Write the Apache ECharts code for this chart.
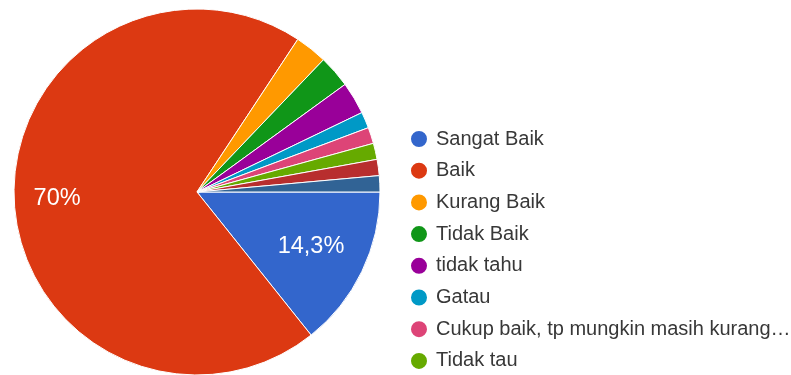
<!DOCTYPE html>
<html>
<head>
<meta charset="utf-8">
<script src="https://cdn.jsdelivr.net/npm/echarts@6/dist/echarts.min.js"></script>
<style>
  html, body { margin: 0; padding: 0; background: #fff; }
  #chart { width: 791px; height: 375px; }
</style>
</head>
<body>
<div id="chart"></div>
<script>
// Survey answers (number of responses per option)
const categories = [
  'Sangat Baik',
  'Baik',
  'Kurang Baik',
  'Tidak Baik',
  'tidak tahu',
  'Gatau',
  'Cukup baik, tp mungkin masih kurang…',
  'Tidak tau',
  'Lainnya A',
  'Lainnya B'
];
const counts = [10, 49, 2, 2, 2, 1, 1, 1, 1, 1];
const colors = ['#3366cc', '#dc3912', '#ff9900', '#109618', '#990099',
                '#0099c6', '#dd4477', '#66aa00', '#b82e2e', '#316395'];
// Options listed in the legend
const legendNames = categories.slice(0, 8);

const total = counts.reduce((a, b) => a + b, 0);
const pctText = v => {
  const p = (v / total * 100).toFixed(1).replace(/\.0$/, '').replace('.', ',');
  return p + '%';
};

const CENTER = [197, 192];
const R = 183;

const sliceData = categories.map((n, i) => ({
  name: n, value: counts[i], itemStyle: { color: colors[i] }
}));

// Transparent copy of the pie, used only to place a percentage label
// for one slice at a chosen distance from the centre.
function labelRing(innerR, showIndex) {
  return {
    type: 'pie',
    center: CENTER,
    radius: [innerR, R],
    startAngle: 0,
    clockwise: true,
    silent: true,
    z: 5,
    itemStyle: { color: 'rgba(0,0,0,0)', borderWidth: 0 },
    emphasis: { disabled: true },
    labelLine: { show: false },
    data: counts.map((v, i) => ({
      name: '',
      value: v,
      label: { show: i === showIndex }
    })),
    label: {
      position: 'inside',
      color: '#ffffff',
      fontFamily: 'Liberation Sans, Arial, sans-serif',
      fontSize: 23.5,
      formatter: p => pctText(p.value)
    }
  };
}

const chart = echarts.init(document.getElementById('chart'), null, { renderer: 'canvas' });
chart.setOption({
  backgroundColor: '#ffffff',
  animation: false,
  legend: {
    orient: 'vertical',
    left: 409,
    top: 129,
    padding: 0,
    data: legendNames,
    icon: 'circle',
    itemWidth: 24,
    itemHeight: 18,
    itemGap: 11.7,
    selectedMode: false,
    textStyle: {
      color: '#383838',
      fontFamily: 'Liberation Sans, Arial, sans-serif',
      fontSize: 20,
      lineHeight: 20
    }
  },
  series: [
    {
      type: 'pie',
      center: CENTER,
      radius: [0, R],
      startAngle: 0,
      clockwise: true,
      label: { show: false },
      labelLine: { show: false },
      emphasis: { scale: false },
      itemStyle: { borderColor: '#ffffff', borderWidth: 1 },
      data: sliceData
    },
    labelRing(91, 1),
    labelRing(64, 0)
  ]
});
</script>
</body>
</html>
